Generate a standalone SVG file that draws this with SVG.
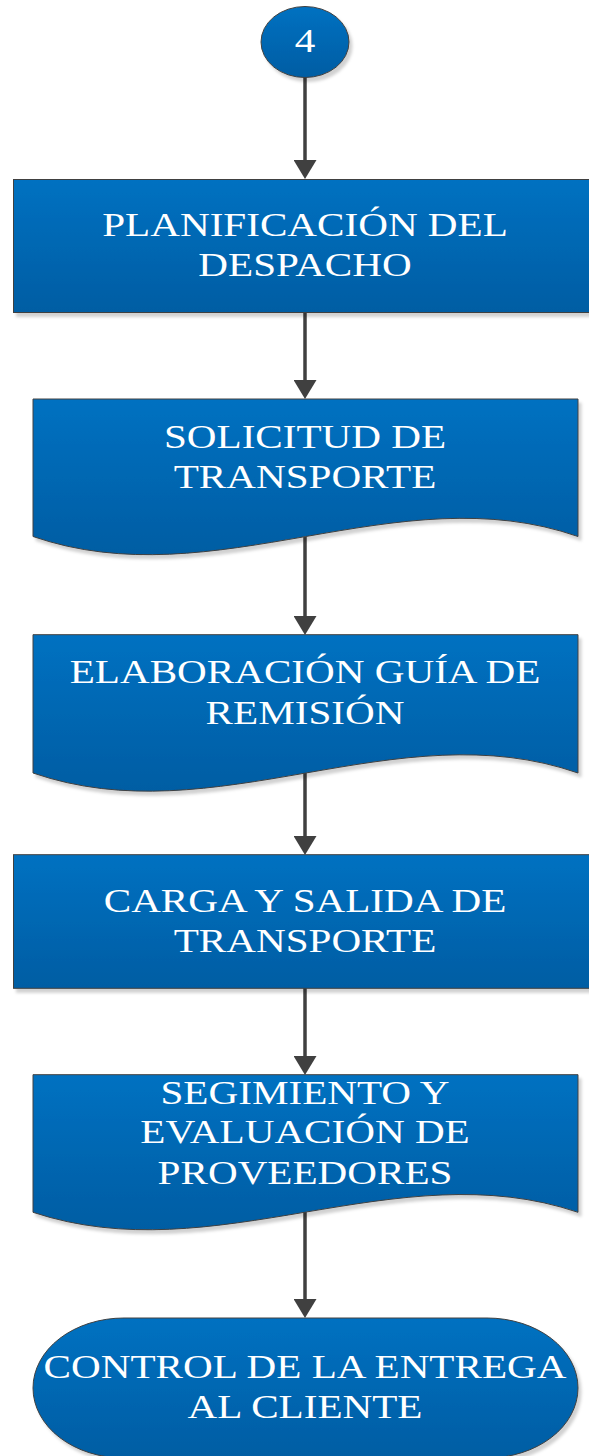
<svg xmlns="http://www.w3.org/2000/svg" width="589" height="1456" viewBox="0 0 589 1456">
  <style>
    .node { fill: url(#blueGrad); stroke: #404040; stroke-width: 1; filter: url(#shadow); }
    .lbl { font-family: "Liberation Serif", "Times New Roman", serif; font-size: 33px; fill: #ffffff; text-anchor: middle; }
    .conn { stroke: #404040; stroke-width: 3.5; fill: none; marker-end: url(#arrow); }
  </style>
  <defs>
    <linearGradient id="blueGrad" x1="0" y1="0" x2="0" y2="1">
      <stop offset="0" stop-color="#0071C1"/>
      <stop offset="1" stop-color="#005DA3"/>
    </linearGradient>
    <filter id="shadow" x="-10%" y="-10%" width="130%" height="130%">
      <feDropShadow dx="3" dy="4" stdDeviation="1.5" flood-color="#000000" flood-opacity="0.18"/>
    </filter>
    <marker id="arrow" viewBox="0 0 19 23" markerWidth="19" markerHeight="23" refX="9" refY="11.5" orient="auto" markerUnits="userSpaceOnUse">
      <path d="M0,0 L19,11.5 L0,23 Z" fill="#404040"/>
    </marker>
  </defs>

  <g id="connectors">
    <line class="conn" x1="305" y1="77" x2="305" y2="169"/>
    <line class="conn" x1="305" y1="313" x2="305" y2="389"/>
    <line class="conn" x1="305" y1="537" x2="305" y2="625"/>
    <line class="conn" x1="305" y1="773" x2="305" y2="845"/>
    <line class="conn" x1="305" y1="988" x2="305" y2="1065"/>
    <line class="conn" x1="305" y1="1212" x2="305" y2="1308"/>
  </g>

  <g id="node-start">
    <ellipse class="node" cx="305" cy="42" rx="44" ry="35.5"/>
    <g transform="matrix(1.247 0 0 1 -75.3 0)">
      <text class="lbl" x="305" y="52">4</text>
    </g>
  </g>

  <g id="node-planificacion">
    <rect class="node" x="13.5" y="179.5" width="600" height="133"/>
    <g transform="matrix(1.247 0 0 1 -75.3 0)">
      <text class="lbl" x="305" y="236.5">PLANIFICACIÓN DEL</text>
      <text class="lbl" x="305" y="276.5">DESPACHO</text>
    </g>
  </g>

  <g id="node-solicitud">
    <path class="node" d="M33,399 H578 V536.5 C397,473.5 215,599.5 33,536.5 Z"/>
    <g transform="matrix(1.247 0 0 1 -75.3 0)">
      <text class="lbl" x="305" y="448.3">SOLICITUD DE</text>
      <text class="lbl" x="305" y="488.3">TRANSPORTE</text>
    </g>
  </g>

  <g id="node-elaboracion">
    <path class="node" d="M33,634.7 H578 V773 C397,710 215,836 33,773 Z"/>
    <g transform="matrix(1.247 0 0 1 -75.3 0)">
      <text class="lbl" x="305" y="683.5">ELABORACIÓN GUÍA DE</text>
      <text class="lbl" x="305" y="724">REMISIÓN</text>
    </g>
  </g>

  <g id="node-carga">
    <rect class="node" x="13.5" y="854.7" width="600" height="133.6"/>
    <g transform="matrix(1.247 0 0 1 -75.3 0)">
      <text class="lbl" x="305" y="912.3">CARGA Y SALIDA DE</text>
      <text class="lbl" x="305" y="952.3">TRANSPORTE</text>
    </g>
  </g>

  <g id="node-seguimiento">
    <path class="node" d="M33,1074.7 H578 V1212.3 C397,1151 215,1273 33,1212.3 Z"/>
    <g transform="matrix(1.247 0 0 1 -75.3 0)">
      <text class="lbl" x="305" y="1104">SEGIMIENTO Y</text>
      <text class="lbl" x="305" y="1143.5">EVALUACIÓN DE</text>
      <text class="lbl" x="305" y="1184">PROVEEDORES</text>
    </g>
  </g>

  <g id="node-control">
    <rect class="node" x="33" y="1318" width="545" height="140" rx="91" ry="70"/>
    <g transform="matrix(1.247 0 0 1 -75.3 0)">
      <text class="lbl" x="305" y="1378.5">CONTROL DE LA ENTREGA</text>
      <text class="lbl" x="305" y="1418.5">AL CLIENTE</text>
    </g>
  </g>
</svg>
